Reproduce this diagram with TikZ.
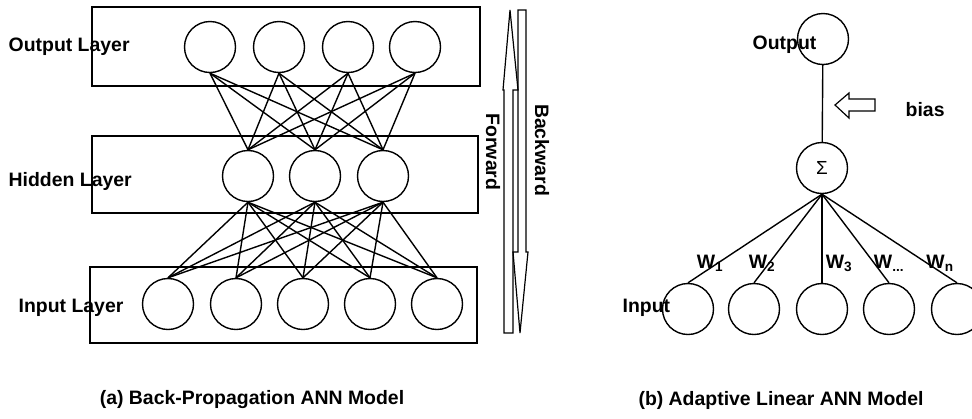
\documentclass[tikz,border=0pt]{standalone}
\usepackage{fontspec}
\setmainfont{Liberation Sans}
\begin{document}
\begin{tikzpicture}[x=1bp,y=-1bp,line width=1.4pt]
\tikzstyle{every node}+=[inner sep=0pt,font=\fontsize{19.5}{22}\selectfont\bfseries]
\tikzstyle{neuron}=[draw,circle,minimum size=51bp]
\tikzstyle{wlabel}=[anchor=base]
\useasboundingbox (0,0) rectangle (972,418);
% (a) back-propagation model
\draw (92,7) rectangle (480,86);
\draw (92,136) rectangle (478,213);
\draw (90,267) rectangle (477,343);
\node[anchor=west] (outlayer) at (8,47) {Output Layer};
\node[anchor=west] (hidlayer) at (8,181) {Hidden Layer};
\node[anchor=west] (inlayer) at (18,308) {Input Layer};
\node[neuron] (o1) at (210,47) {};
\node[neuron] (o2) at (279,47) {};
\node[neuron] (o3) at (348,47) {};
\node[neuron] (o4) at (415,47) {};
\node[neuron] (h1) at (248,176) {};
\node[neuron] (h2) at (315,176) {};
\node[neuron] (h3) at (383,176) {};
\node[neuron] (i1) at (168,304) {};
\node[neuron] (i2) at (236,304) {};
\node[neuron] (i3) at (303,304) {};
\node[neuron] (i4) at (370,304) {};
\node[neuron] (i5) at (437,304) {};
\foreach \i in {1,...,4}
  \foreach \j in {1,...,3}
    \draw (o\i.south) -- (h\j.north);
\foreach \i in {1,...,3}
  \foreach \j in {1,...,5}
    \draw (h\i.south) -- (i\j.north);
% forward / backward arrows
\draw [line width=1.2pt] (504,333) -- (504,90) -- (503,90) -- (510,10) -- (518,90) -- (513,90) -- (513,333) -- cycle;
\draw [line width=1.2pt] (518,10) -- (526,10) -- (526,252) -- (528,252) -- (520,333) -- (513,252) -- (518,252) -- cycle;
\node[rotate=-90] (fwd) at (493,152) {Forward};
\node[rotate=-90] (bwd) at (542,150) {Backward};
\node (capa) at (252,400) {(a) Back-Propagation ANN Model};
% (b) adaptive linear model
\node[neuron] (out) at (823,39) {};
\node[anchor=west] (outlabel) at (752,45) {Output};
\node[neuron] (sum) at (822,168) {\fontsize{19}{19}\selectfont\mdseries Σ};
\draw (out) -- (sum);
\draw [line width=1.2pt] (835,105) -- (849,93) -- (849,99) -- (875,99) -- (875,111) -- (849,111) -- (849,118) -- cycle;
\node[anchor=west] (bias) at (905,110) {bias};
\node[neuron] (b1) at (688,309) {};
\node[neuron] (b2) at (754,309) {};
\node[neuron] (b3) at (822,309) {};
\node[neuron] (b4) at (889,309) {};
\node[neuron] (b5) at (957,309) {};
\foreach \j in {1,...,5}
  \draw (sum.south) -- (b\j.north);
\node[wlabel] (w1) at (710,268) {W\textsubscript{1}};
\node[wlabel] (w2) at (762,268) {W\textsubscript{2}};
\node[wlabel] (w3) at (839,268) {W\textsubscript{3}};
\node[wlabel] (w4) at (889,268) {W\textsubscript{...}};
\node[wlabel] (w5) at (940,268) {W\textsubscript{n}};
\node[anchor=west] (inlabel) at (622,308) {Input};
\node (capb) at (781,400) {(b) Adaptive Linear ANN Model};
\end{tikzpicture}
\end{document}
